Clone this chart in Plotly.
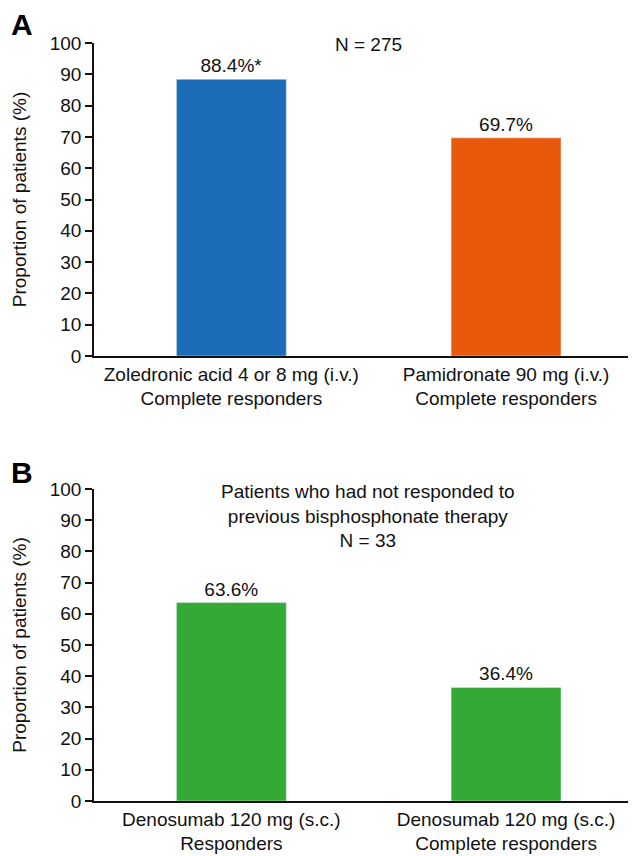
import plotly.graph_objects as go

# Panel A data
cats_a = ["Zoledronic acid 4 or 8 mg (i.v.)<br>Complete responders",
          "Pamidronate 90 mg (i.v.)<br>Complete responders"]
vals_a = [88.4, 69.7]
marks_a = ["*", ""]
colors_a = ["#1b6db7", "#e8590c"]

# Panel B data
cats_b = ["Denosumab 120 mg (s.c.)<br>Responders",
          "Denosumab 120 mg (s.c.)<br>Complete responders"]
vals_b = [63.6, 36.4]
marks_b = ["", ""]
colors_b = ["#35a936", "#35a936"]

y_ticks = [0, 10, 20, 30, 40, 50, 60, 70, 80, 90, 100]
y_title = "Proportion of patients (%)"
note_a = "N = 275"
note_b = "Patients who had not responded to<br>previous bisphosphonate therapy<br>N = 33"

FONT = "Liberation Sans, Arial, sans-serif"
FS = 19
# page body has an 8px margin, so the figure is 16px smaller than the window
W, H = 628, 848

fig = go.Figure()
fig.add_trace(go.Bar(x=cats_a, y=vals_a, marker_color=colors_a, width=0.4,
                     text=[f"{v}%{m}" for v, m in zip(vals_a, marks_a)],
                     textposition="outside", cliponaxis=False, constraintext="none",
                     textfont=dict(size=FS, color="#111"),
                     xaxis="x", yaxis="y", showlegend=False))
fig.add_trace(go.Bar(x=cats_b, y=vals_b, marker_color=colors_b, width=0.4,
                     text=[f"{v}%{m}" for v, m in zip(vals_b, marks_b)],
                     textposition="outside", cliponaxis=False, constraintext="none",
                     textfont=dict(size=FS, color="#111"),
                     xaxis="x2", yaxis="y2", showlegend=False))

x_dom = [86 / W, 1.0]
ya_dom = [1 - 348 / H, 1 - 35 / H]
yb_dom = [1 - 793 / H, 1 - 481 / H]

axis_common = dict(showline=True, linecolor="#111", linewidth=1.5, automargin=False,
                   tickfont=dict(size=FS, color="#111", family=FONT),
                   showgrid=False, zeroline=False)
xcommon = dict(axis_common, ticks="", range=[-0.5, 1.473], fixedrange=True)
ycommon = dict(axis_common, ticks="outside", ticklen=7, tickwidth=1.5,
               tickcolor="#111", range=[0, 100], tickvals=y_ticks,
               title=dict(text=y_title, font=dict(size=FS, color="#111"), standoff=18))

fig.update_layout(
    width=W, height=H,
    margin=dict(l=0, r=0, t=0, b=0),
    paper_bgcolor="white", plot_bgcolor="white",
    font=dict(family=FONT, size=FS, color="#111"),
    xaxis=dict(xcommon, domain=x_dom, anchor="y"),
    yaxis=dict(ycommon, domain=ya_dom, anchor="x"),
    xaxis2=dict(xcommon, domain=x_dom, anchor="y2"),
    yaxis2=dict(ycommon, domain=yb_dom, anchor="x2"),
    annotations=[
        dict(text="<b>A</b>", x=1 / W, y=1 - 17 / H, xref="paper", yref="paper",
             xanchor="left", yanchor="middle", showarrow=False, font=dict(size=30, color="#000")),
        dict(text="<b>B</b>", x=1 / W, y=1 - 465 / H, xref="paper", yref="paper",
             xanchor="left", yanchor="middle", showarrow=False, font=dict(size=30, color="#000")),
        dict(text=note_a, x=360 / W, y=1 - 36 / H, xref="paper", yref="paper",
             xanchor="center", yanchor="middle", showarrow=False, font=dict(size=FS)),
        dict(text=note_b, x=360 / W, y=1 - 508 / H, xref="paper", yref="paper",
             xanchor="center", yanchor="middle", showarrow=False, font=dict(size=FS)),
    ],
)

fig.write_html("out.html")
